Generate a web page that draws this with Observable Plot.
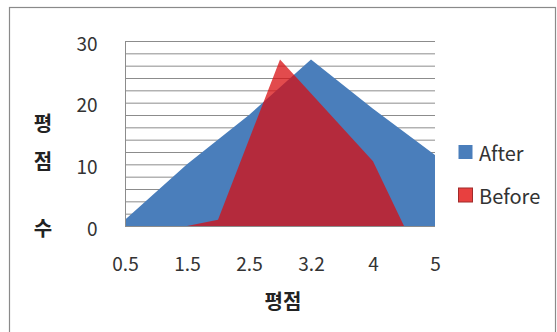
<!DOCTYPE html>
<html><head><meta charset="utf-8">
<script src="https://cdn.jsdelivr.net/npm/d3@7"></script>
<script src="https://cdn.jsdelivr.net/npm/@observablehq/plot@0.6"></script>
<style>
body{margin:0;background:#fff}
#chart{position:relative;width:557px;height:332px;overflow:hidden}
</style>
</head><body><div id="chart"></div>
<script>
// ---- data ----
const categories = ["0.5", "1.5", "2.5", "3.2", "4", "5"];
const afterValues = [1, 10, 18, 27, 19, 11.5];
// Before series: positions along the category axis (0 = "0.5", 5 = "5")
const beforePositions = [1.0, 1.5, 2.5, 4.0, 4.5];
const beforeValues = [0, 1, 27, 10.5, 0];
const yTickValues = [0, 10, 20, 30];
const gridValues = [2, 4, 6, 8, 10, 12, 14, 16, 18, 20, 22, 24, 26, 28, 30];
const seriesNames = ["After", "Before"];
const seriesColors = ["#4a7ebb", "#d80f12"];
const xTitle = "평점";
const yTitleChars = ["평", "점", "수"];

const afterData = categories.map((c, i) => ({pos: i, value: afterValues[i]}));
const beforeData = beforePositions.map((p, i) => ({pos: p, value: beforeValues[i]}));

const FONT = "'Noto Sans CJK KR', 'Noto Sans', sans-serif";
const TICK_FS = 19;
const TITLE_FS = 20;
const LEGEND_FS = 20;

const plot = Plot.plot({
  width: 557,
  height: 332,
  marginLeft: 125,
  marginRight: 122,
  marginTop: 41,
  marginBottom: 106,
  style: {fontFamily: FONT, fontSize: TICK_FS + "px", color: "#333", background: "#fff"},
  x: {domain: [0, categories.length - 1], label: null},
  y: {domain: [0, 30], label: null},
  marks: [
    Plot.ruleY(gridValues, {stroke: "#8c8c8c", strokeWidth: 1}),
    Plot.areaY(afterData, {x: "pos", y: "value", fill: seriesColors[0]}),
    Plot.areaY(beforeData, {x: "pos", y: "value", fill: seriesColors[1], fillOpacity: 0.75}),
    Plot.ruleY([0], {stroke: "#8c8c8c"}),
    Plot.ruleX([0], {stroke: "#8c8c8c"}),
    Plot.axisX(categories.map((c, i) => i), {tickFormat: i => categories[i], tickSize: 0, tickPadding: 31, fill: "#333"}),
    Plot.axisY(yTickValues, {tickSize: 0, tickPadding: 28, dy: 3, fill: "#333"})
  ]
});

const svg = d3.select(plot);
svg.selectAll('g[aria-label$="tick label"]').style("font-size", TICK_FS + "px").attr("font-size", TICK_FS);

// outer frame
svg.insert("rect", ":first-child")
  .attr("x", 9.5).attr("y", 7.5).attr("width", 546).attr("height", 340)
  .attr("fill", "#fff").attr("stroke", "#8a8a8a").attr("stroke-width", 1.2);

// x title
svg.append("text").attr("x", 283).attr("y", 300).attr("text-anchor", "middle")
  .attr("dominant-baseline", "central")
  .style("font-size", TITLE_FS + "px")
  .attr("font-family", FONT).attr("font-weight", 700).attr("fill", "#222")
  .text(xTitle);

// y title (stacked characters)
const yTitleY = [122, 160, 227];
yTitleChars.forEach((ch, i) => {
  svg.append("text").attr("x", 43).attr("y", yTitleY[i]).attr("text-anchor", "middle")
    .attr("dominant-baseline", "central")
    .style("font-size", TITLE_FS + "px")
    .attr("font-family", FONT).attr("font-weight", 700).attr("fill", "#222")
    .text(ch);
});

// legend
const legendY = [152, 195];
seriesNames.forEach((name, i) => {
  const g = svg.append("g");
  g.append("rect").attr("x", 458.5).attr("y", legendY[i] - 7).attr("width", 14).attr("height", 14)
    .attr("fill", i === 0 ? seriesColors[0] : "#e8403f")
    .attr("stroke", i === 0 ? "none" : "#a02a2a").attr("stroke-width", 1);
  g.append("text").attr("x", 479).attr("y", legendY[i]).attr("dominant-baseline", "central")
    .attr("text-anchor", "start")
    .style("font-size", LEGEND_FS + "px")
    .attr("font-family", FONT).attr("fill", "#333").text(name);
});

document.getElementById("chart").appendChild(plot);
</script>
</body></html>
